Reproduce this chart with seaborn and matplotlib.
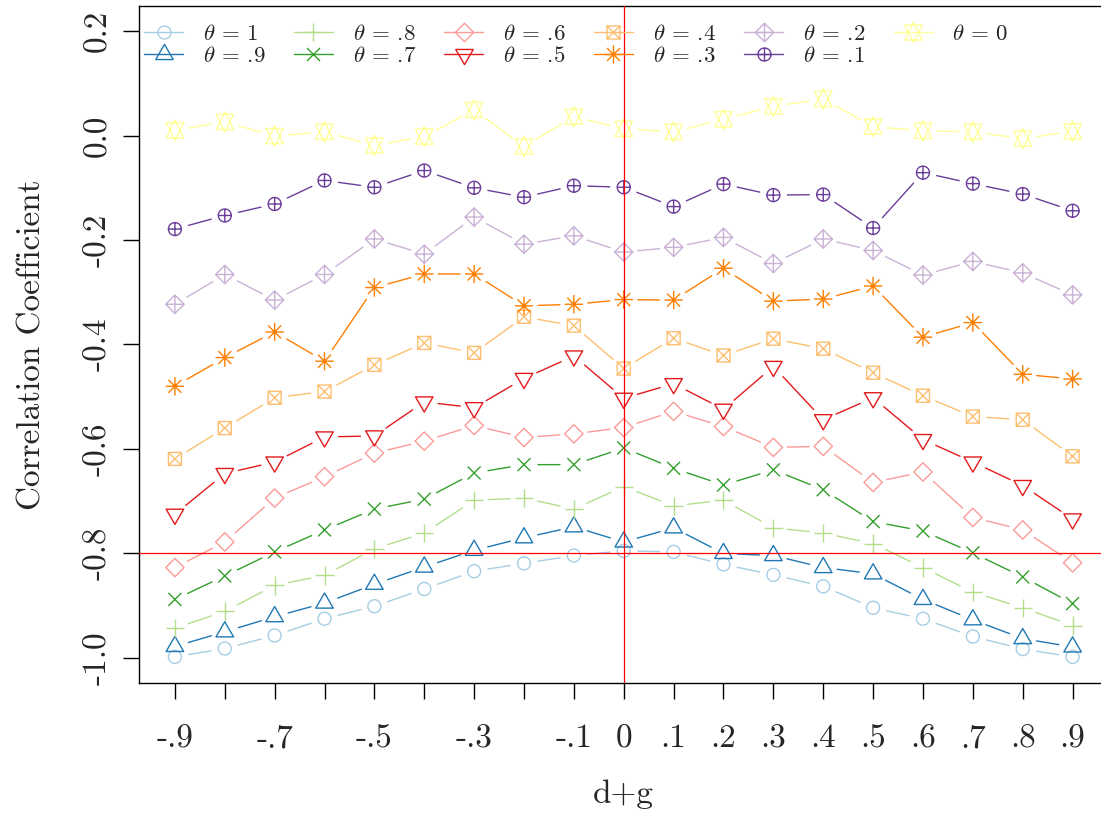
import numpy as np
import seaborn as sns
import matplotlib
matplotlib.use("Agg")
import matplotlib.pyplot as plt
from matplotlib.lines import Line2D
from matplotlib.path import Path

# d+g positions on the x axis
dg = [-0.9, -0.8, -0.7, -0.6, -0.5, -0.4, -0.3, -0.2, -0.1, 0.0,
      0.1, 0.2, 0.3, 0.4, 0.5, 0.6, 0.7, 0.8, 0.9]
x_tick_labels = ['-.9', '', '-.7', '', '-.5', '', '-.3', '', '-.1', '0',
                 '.1', '.2', '.3', '.4', '.5', '.6', '.7', '.8', '.9']
y_ticks = [-1.0, -0.8, -0.6, -0.4, -0.2, 0.0, 0.2]
y_tick_labels = ['-1.0', '-0.8', '-0.6', '-0.4', '-0.2', '0.0', '0.2']

theta_labels = ['1', '.9', '.8', '.7', '.6', '.5', '.4', '.3', '.2', '.1', '0']

# correlation coefficient, one list per theta
rho_t10 = [-0.998, -0.982, -0.957, -0.925, -0.901, -0.868, -0.834, -0.819, -0.804, -0.795,
           -0.797, -0.821, -0.841, -0.863, -0.904, -0.925, -0.959, -0.983, -0.998]
rho_t09 = [-0.978, -0.950, -0.921, -0.895, -0.859, -0.826, -0.794, -0.770, -0.749, -0.778,
           -0.751, -0.800, -0.804, -0.827, -0.839, -0.888, -0.927, -0.963, -0.979]
rho_t08 = [-0.943, -0.911, -0.861, -0.842, -0.791, -0.761, -0.698, -0.694, -0.715, -0.672,
           -0.709, -0.698, -0.751, -0.761, -0.781, -0.827, -0.874, -0.904, -0.938]
rho_t07 = [-0.888, -0.843, -0.797, -0.755, -0.715, -0.696, -0.646, -0.630, -0.630, -0.598,
           -0.637, -0.669, -0.640, -0.678, -0.739, -0.757, -0.799, -0.845, -0.896]
rho_t06 = [-0.827, -0.778, -0.694, -0.653, -0.608, -0.585, -0.555, -0.578, -0.571, -0.559,
           -0.528, -0.557, -0.597, -0.595, -0.664, -0.644, -0.731, -0.755, -0.818]
rho_t05 = [-0.725, -0.647, -0.625, -0.577, -0.575, -0.510, -0.521, -0.465, -0.422, -0.503,
           -0.475, -0.524, -0.442, -0.544, -0.502, -0.582, -0.625, -0.670, -0.734]
rho_t04 = [-0.619, -0.560, -0.502, -0.490, -0.439, -0.397, -0.416, -0.347, -0.364, -0.446,
           -0.388, -0.421, -0.389, -0.408, -0.454, -0.498, -0.538, -0.544, -0.614]
rho_t03 = [-0.480, -0.425, -0.376, -0.432, -0.291, -0.265, -0.265, -0.326, -0.323, -0.314,
           -0.315, -0.254, -0.317, -0.313, -0.288, -0.386, -0.358, -0.457, -0.466]
rho_t02 = [-0.323, -0.266, -0.315, -0.266, -0.198, -0.227, -0.156, -0.208, -0.192, -0.223,
           -0.214, -0.195, -0.245, -0.198, -0.220, -0.267, -0.241, -0.263, -0.305]
rho_t01 = [-0.179, -0.153, -0.131, -0.086, -0.099, -0.067, -0.100, -0.118, -0.096, -0.099,
           -0.136, -0.093, -0.114, -0.113, -0.177, -0.071, -0.092, -0.112, -0.144]
rho_t00 = [0.010, 0.026, -0.001, 0.007, -0.019, -0.002, 0.049, -0.021, 0.036, 0.013,
           0.007, 0.031, 0.056, 0.070, 0.017, 0.009, 0.007, -0.006, 0.008]

series = [rho_t10, rho_t09, rho_t08, rho_t07, rho_t06, rho_t05,
          rho_t04, rho_t03, rho_t02, rho_t01, rho_t00]


# R-like pch symbols built as paths (unit = symbol radius)
def lines(*segs):
    verts, codes = [], []
    for (a, b) in segs:
        verts += [a, b]
        codes += [Path.MOVETO, Path.LINETO]
    return Path(verts, codes)


def poly(pts):
    return Path(pts + [pts[0]], [Path.MOVETO] + [Path.LINETO] * (len(pts) - 1) + [Path.CLOSEPOLY])


s2 = np.sqrt(2)
circle = Path.unit_circle()
tri_up = poly([(0, 1.555), (1.347, -0.778), (-1.347, -0.778)])
tri_dn = poly([(0, -1.555), (1.347, 0.778), (-1.347, 0.778)])
plus_big = lines(((-s2, 0), (s2, 0)), ((0, -s2), (0, s2)))
plus_small = lines(((-1, 0), (1, 0)), ((0, -1), (0, 1)))
cross = lines(((-1, -1), (1, 1)), ((-1, 1), (1, -1)))
diamond = poly([(0, s2), (s2, 0), (0, -s2), (-s2, 0)])
square = poly([(-1, -1), (1, -1), (1, 1), (-1, 1)])
star_up = poly([(0, 1.555), (1.347, -1.1665), (-1.347, -1.1665)])
star_dn = poly([(0, -1.555), (1.347, 1.1665), (-1.347, 1.1665)])

pch = [
    circle,
    tri_up,
    plus_big,
    cross,
    diamond,
    tri_dn,
    Path.make_compound_path(square, cross),
    Path.make_compound_path(cross, plus_big),
    Path.make_compound_path(diamond, plus_big),
    Path.make_compound_path(circle, plus_small),
    Path.make_compound_path(star_up, star_dn),
]

R_PT = 4.68  # symbol radius in points


def msize(p):
    return 2 * np.abs(p.vertices).max() * R_PT


def gapped(ax, xs, ys, gap):
    # shorten each segment at both ends like R's type="b"
    pts = ax.transData.transform(np.column_stack([xs, ys]))
    inv = ax.transData.inverted()
    out = []
    for p0, p1 in zip(pts[:-1], pts[1:]):
        v = p1 - p0
        L = np.hypot(*v)
        if L <= 2 * gap:
            continue
        u = v / L
        out.append(inv.transform(np.array([p0 + gap * u, p1 - gap * u])))
        out.append(np.array([[np.nan, np.nan]]))
    arr = np.vstack(out)
    return arr[:, 0], arr[:, 1]


sns.set_style("ticks")
plt.rcParams['font.family'] = ['cmr10', 'DejaVu Serif']
plt.rcParams['mathtext.fontset'] = 'cm'
plt.rcParams['axes.unicode_minus'] = False

colors = sns.color_palette("Paired", 11)

fig = plt.figure(figsize=(11.01, 8.21), dpi=100)
ax = fig.add_axes([139 / 1101, (821 - 683) / 821, (1108.5 - 139) / 1101, (683 - 6) / 821])

for vals, c, p in zip(series, colors, pch):
    sns.scatterplot(x=dg, y=vals, marker=p, s=msize(p) ** 2, color=c,
                    facecolor='none', edgecolor=c, linewidth=1.0,
                    legend=False, ax=ax, zorder=3)

ax.set_xlim(-0.972, 0.972)
ax.set_ylim(-1.048, 0.248)

for vals, c in zip(series, colors):
    gx, gy = gapped(ax, dg, vals, 14)
    ax.plot(gx, gy, color=c, lw=1.0, zorder=2)

ax.axvline(0, color='red', lw=0.9, zorder=4)
ax.axhline(-0.8, color='red', lw=0.9, zorder=4)

ax.set_xticks(dg)
ax.set_xticklabels(x_tick_labels, fontsize=24)
ax.set_yticks(y_ticks)
ax.set_yticklabels(y_tick_labels, fontsize=24, rotation=90, va='center')
ax.tick_params(axis='both', direction='out', length=11.5, width=1.0, color='black')
ax.tick_params(axis='x', pad=18)
ax.tick_params(axis='y', pad=8)
ax.set_xlabel('d+g', fontsize=24, labelpad=19)
ax.set_ylabel('Correlation Coefficient', fontsize=24, labelpad=26)

for side in ['left', 'top', 'bottom', 'right']:
    ax.spines[side].set_color('black')
    ax.spines[side].set_linewidth(1.0)

handles = [Line2D([], [], color=c, lw=1.0, marker=p, markersize=msize(p),
                  markerfacecolor='none', markeredgecolor=c, markeredgewidth=1.0)
           for c, p in zip(colors, pch)]
labels = [r'$\theta$ = %s' % t for t in theta_labels]
ax.legend(handles, labels, loc='upper left', bbox_to_anchor=(-0.013, 1.0), ncol=6,
          frameon=False, fontsize=16.5, handlelength=1.7, handletextpad=0.87,
          columnspacing=1.23, labelspacing=0.1, borderpad=0.2, borderaxespad=0.57,
          numpoints=1)

fig.savefig('out.png', dpi=100)
